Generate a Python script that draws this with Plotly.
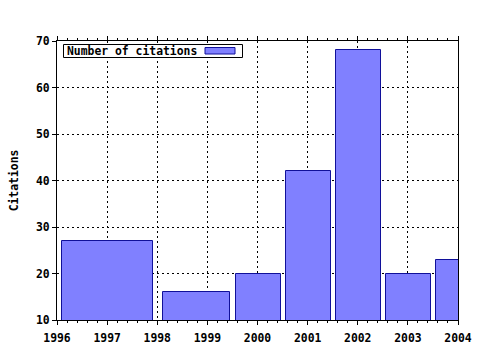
import plotly.graph_objects as go

# Data
years = [1997.0, 1998.78, 2000.02, 2001.02, 2002.02, 2003.02, 2004.02]
widths = [1.82, 1.34, 0.9, 0.9, 0.9, 0.9, 0.9]
citations = [27, 16, 20, 42, 68, 20, 23]
x_ticks = [1996, 1997, 1998, 1999, 2000, 2001, 2002, 2003, 2004]
y_ticks = [10, 20, 30, 40, 50, 60, 70]
series_name = "Number of citations"

FONT = dict(family="DejaVu Sans Mono, Liberation Mono, monospace", size=11.4,
            color="black", weight="bold")
FILL = "#8080ff"
EDGE = "#10109a"

W, H = 480, 350
L, R, T, B = 57, 22, 41, 30
pw, ph = W - L - R, H - T - B


def px(x):
    return (x - L) / pw


def py(y):
    return (H - B - y) / ph


fig = go.Figure()
fig.add_trace(go.Bar(
    x=years, y=citations, width=widths, name=series_name,
    marker=dict(color=FILL, line=dict(color=EDGE, width=1)),
    showlegend=False, hoverinfo="skip",
))

fig.update_layout(
    width=W, height=H,
    margin=dict(l=L, r=R, t=T, b=B, pad=0, autoexpand=False),
    paper_bgcolor="white", plot_bgcolor="white",
    font=FONT,
    bargap=0,
    xaxis=dict(
        range=[1996, 2004], tickvals=x_ticks, ticktext=[str(v) for v in x_ticks],
        showline=True, linecolor="black", linewidth=1, mirror="ticks",
        ticks="outside", ticklen=4, tickcolor="black", tickwidth=1,
        minor=dict(dtick=0.2, tick0=1996, ticks="outside", ticklen=2,
                   tickcolor="black", showgrid=False),
        showgrid=True, gridcolor="black", gridwidth=1, griddash="2px,3px",
        zeroline=False, tickfont=FONT, automargin=False, ticklabelstandoff=3,
    ),
    yaxis=dict(
        range=[10, 70], tickvals=y_ticks,
        showline=True, linecolor="black", linewidth=1, mirror=True,
        ticks="outside", ticklen=4, tickcolor="black", tickwidth=1,
        showgrid=True, gridcolor="black", gridwidth=1, griddash="2px,3px",
        zeroline=False, tickfont=FONT, automargin=False,
        title=dict(text="Citations", font=FONT, standoff=15),
    ),
)

# Legend box (gnuplot style: text then sample on the right)
fig.add_shape(type="rect", xref="paper", yref="paper",
              x0=px(63.5), x1=px(242.5), y0=py(57.5), y1=py(44.5),
              line=dict(color="black", width=1), fillcolor="white", layer="above")
fig.add_shape(type="rect", xref="paper", yref="paper",
              x0=px(205), x1=px(235), y0=py(54), y1=py(47.5),
              line=dict(color=EDGE, width=1), fillcolor=FILL, layer="above")
fig.add_annotation(xref="paper", yref="paper", x=px(64.5), y=py(51),
                   xanchor="left", yanchor="middle", text=series_name,
                   showarrow=False, font=FONT)

fig.write_html("out.html")
